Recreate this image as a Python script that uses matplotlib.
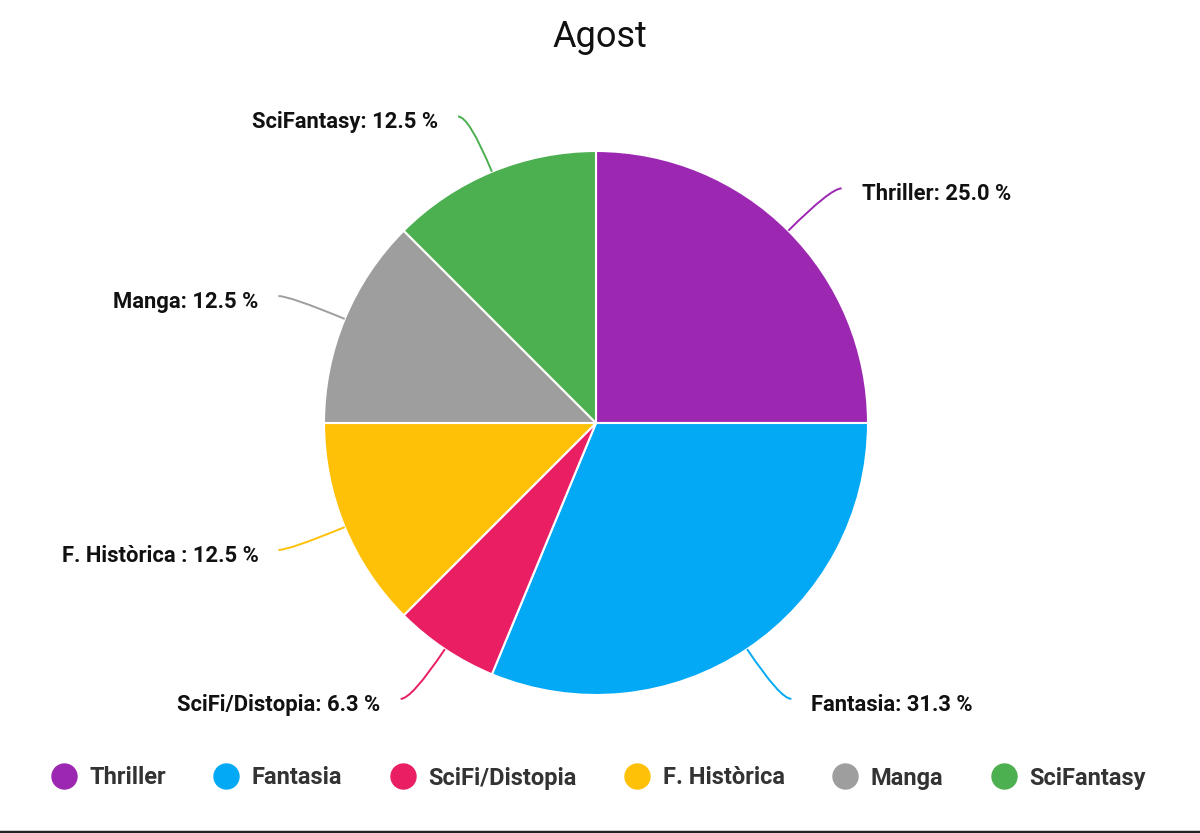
import numpy as np
import matplotlib
matplotlib.use('Agg')
import matplotlib.pyplot as plt
from matplotlib.lines import Line2D
from matplotlib.path import Path
from matplotlib.patches import PathPatch

plt.rcParams['font.family'] = ['Roboto', 'DejaVu Sans']

# data
categories = ['Thriller', 'Fantasia', 'SciFi/Distopia', 'F. Històrica', 'Manga', 'SciFantasy']
label_names = ['Thriller', 'Fantasia', 'SciFi/Distopia', 'F. Històrica ', 'Manga', 'SciFantasy']
values = [25.0, 31.25, 6.25, 12.5, 12.5, 12.5]
colors = ['#9C27B0', '#03A9F4', '#E91E63', '#FFC107', '#9E9E9E', '#4CAF50']

W, H = 1200, 833
fig = plt.figure(figsize=(12, 8.33), dpi=100)
ax = fig.add_axes([0, 0, 1, 1])

cx, cy, R = 596, H - 423, 272

wedges, _ = ax.pie(values, colors=colors, startangle=90, counterclock=False,
                   center=(cx, cy), radius=R, frame=True,
                   wedgeprops=dict(edgecolor='white', linewidth=1.5))
ax.set_xlim(0, W)
ax.set_ylim(0, H)
ax.set_aspect('auto')
ax.axis('off')

# labels with curved connector lines
for w, name, v, c in zip(wedges, label_names, values, colors):
    ang = np.deg2rad((w.theta1 + w.theta2) / 2)
    right = np.cos(ang) >= 0
    sx = 1 if right else -1
    p0 = (cx + R * np.cos(ang), cy + R * np.sin(ang))
    p1 = (cx + 1.22 * R * np.cos(ang), cy + 1.22 * R * np.sin(ang))
    p2 = (p1[0] + sx * 11, p1[1])
    path = Path([p0, p1, p2], [Path.MOVETO, Path.CURVE3, Path.CURVE3])
    ax.add_patch(PathPatch(path, facecolor='none', edgecolor=c, lw=1.4))
    txt = '%s: %.1f %%' % (name, round(v + 1e-9, 1))
    ax.text(p1[0] + sx * 31, p1[1] - 6, txt,
            ha='left' if right else 'right', va='center',
            fontsize=15.8, fontweight='bold', color='#111111')

fig.text(0.5, 1 - 37 / H, 'Agost', ha='center', va='center', fontsize=26, color='#111111')

handles = [Line2D([], [], marker='o', linestyle='', markersize=18,
                  markerfacecolor=c, markeredgecolor=c) for c in colors]
fig.legend(handles, categories, loc='center', bbox_to_anchor=(0.499, 1 - 778 / H),
           ncol=6, frameon=False, handlelength=1.0, handletextpad=0.58,
           columnspacing=2.06, prop=dict(size=17, weight='bold'),
           labelcolor='#333333')

fig.add_artist(Line2D([0, 1], [1.5 / H, 1.5 / H], color='#222222', lw=2.5))

fig.savefig('out.png', dpi=100)
